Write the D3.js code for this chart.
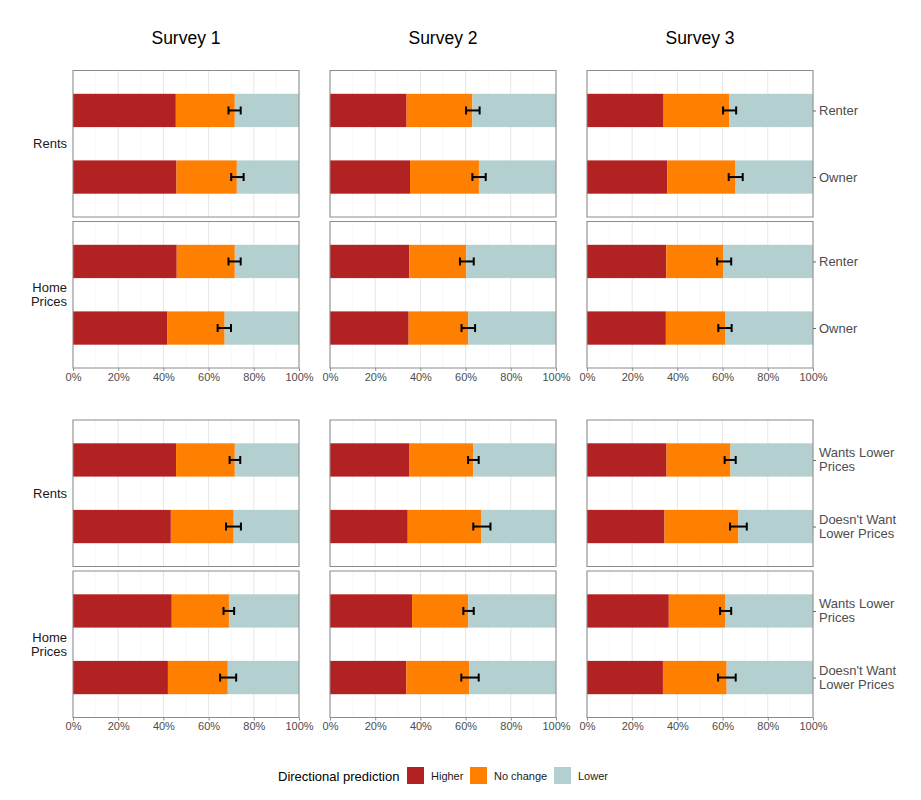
<!DOCTYPE html>
<html>
<head>
<meta charset="utf-8">
<script src="https://cdn.jsdelivr.net/npm/d3@7"></script>
<style>
  body { margin: 0; background: #fff; }
  svg { font-family: "Liberation Sans", Arial, sans-serif; }
</style>
</head>
<body>
<svg id="chart" width="921" height="800"></svg>
<script>
// chart data (shares in %), order: [survey][outcome][group]
const surveys = ["Survey 1", "Survey 2", "Survey 3"];
const outcomes = [["Rents"], ["Home", "Prices"]];
const predictions = ["Higher", "No change", "Lower"];
const colors = ["#b22222", "#ff7f00", "#b4cfcf"];
const tenureGroups = ["Renter", "Owner"];
const preferenceGroups = ["Wants Lower Prices", "Doesn't Want Lower Prices"];
const preferenceLines = [["Wants Lower", "Prices"], ["Doesn't Want", "Lower Prices"]];
const tickValues = [0, 0.2, 0.4, 0.6, 0.8, 1];

// top block: tenure
const tenureHigher = [
  [[45.5, 45.8], [45.9, 41.8]],
  [[33.9, 35.4], [35.1, 34.8]],
  [[33.9, 35.5], [35.1, 34.9]]
];
const tenureNoChange = [
  [[26.1, 26.7], [25.7, 25.3]],
  [[29.1, 30.5], [25.2, 26.4]],
  [[29.1, 30.2], [25.3, 26.4]]
];
const tenureErrLow = [
  [[68.8, 70.0], [68.8, 64.0]],
  [[60.2, 63.0], [57.5, 58.2]],
  [[60.2, 62.7], [57.6, 58.1]]
];
const tenureErrHigh = [
  [[74.2, 75.5], [74.2, 69.9]],
  [[66.2, 68.9], [63.6, 64.2]],
  [[66.0, 68.9], [63.8, 64.0]]
];

// bottom block: preference for lower prices
const prefHigher = [
  [[45.6, 43.3], [43.7, 42.0]],
  [[35.2, 34.4], [36.3, 33.8]],
  [[35.2, 34.3], [36.2, 33.6]]
];
const prefNoChange = [
  [[26.0, 27.8], [25.3, 26.5]],
  [[28.2, 32.6], [24.9, 27.9]],
  [[28.3, 32.7], [25.1, 28.2]]
];
const prefErrLow = [
  [[69.3, 67.7], [66.6, 65.1]],
  [[61.1, 63.4], [59.0, 58.1]],
  [[60.9, 63.3], [58.9, 58.0]]
];
const prefErrHigh = [
  [[74.0, 74.3], [71.3, 72.2]],
  [[65.8, 71.0], [63.6, 65.8]],
  [[65.8, 70.7], [63.8, 65.8]]
];

const svg = d3.select("#chart");

const colX = [73, 330, 587];
const panelW = 226;
const panelH = 146.5;
const panelGap = 4.5;

const blocks = [
  {top: 70.5, groups: tenureGroups, lines: tenureGroups.map(d => [d]),
   higher: tenureHigher, noChange: tenureNoChange, lo: tenureErrLow, hi: tenureErrHigh},
  {top: 420, groups: preferenceGroups, lines: preferenceLines,
   higher: prefHigher, noChange: prefNoChange, lo: prefErrLow, hi: prefErrHigh}
];

// survey titles
surveys.forEach(function(s, i) {
  svg.append("text")
    .attr("x", colX[i] + panelW / 2)
    .attr("y", 44)
    .attr("text-anchor", "middle")
    .attr("font-size", 17.5)
    .attr("fill", "#000")
    .text(s);
});

blocks.forEach(function(block) {
  outcomes.forEach(function(outcomeLines, o) {
    const top = block.top + o * (panelH + panelGap);
    const y = d3.scalePoint().domain(block.groups).range([top, top + panelH]).padding(0.6);
    const barH = y.step() * 0.5;

    // outcome label on the left
    const label = svg.append("text")
      .attr("text-anchor", "end")
      .attr("font-size", 13)
      .attr("fill", "#1a1a1a");
    outcomeLines.forEach(function(line, li) {
      label.append("tspan")
        .attr("x", 67)
        .attr("y", top + panelH / 2 + 4.5 + (li - (outcomeLines.length - 1) / 2) * 14)
        .text(line);
    });

    surveys.forEach(function(s, si) {
      const x = d3.scaleLinear().domain([0, 1]).range([colX[si], colX[si] + panelW]);
      const g = svg.append("g");

      // grid
      g.selectAll("line.minor")
        .data(d3.range(0.1, 1, 0.2))
        .enter().append("line")
        .attr("x1", d => x(d)).attr("x2", d => x(d))
        .attr("y1", top).attr("y2", top + panelH)
        .attr("stroke", "#f2f2f2").attr("stroke-width", 0.6);
      g.selectAll("line.major")
        .data(tickValues)
        .enter().append("line")
        .attr("x1", d => x(d)).attr("x2", d => x(d))
        .attr("y1", top).attr("y2", top + panelH)
        .attr("stroke", "#e6e6e6").attr("stroke-width", 1);

      // stacked bars
      const rows = block.groups.map(function(grp, gi) {
        const h = block.higher[si][o][gi] / 100;
        const n = block.noChange[si][o][gi] / 100;
        return {group: grp, segs: [[0, h], [h, h + n], [h + n, 1]],
                lo: block.lo[si][o][gi] / 100, hi: block.hi[si][o][gi] / 100};
      });

      rows.forEach(function(r) {
        g.selectAll(null)
          .data(r.segs)
          .enter().append("rect")
          .attr("x", d => x(d[0]))
          .attr("width", d => x(d[1]) - x(d[0]))
          .attr("y", y(r.group) - barH / 2)
          .attr("height", barH)
          .attr("fill", (d, k) => colors[k]);

        // error bar
        const cy = y(r.group);
        g.append("line")
          .attr("x1", x(r.lo)).attr("x2", x(r.hi))
          .attr("y1", cy).attr("y2", cy)
          .attr("stroke", "#000").attr("stroke-width", 2);
        [r.lo, r.hi].forEach(function(v) {
          g.append("line")
            .attr("x1", x(v)).attr("x2", x(v))
            .attr("y1", cy - 4).attr("y2", cy + 4)
            .attr("stroke", "#000").attr("stroke-width", 2);
        });
      });

      // panel border
      g.append("rect")
        .attr("x", colX[si]).attr("y", top)
        .attr("width", panelW).attr("height", panelH)
        .attr("fill", "none").attr("stroke", "#8c8c8c").attr("stroke-width", 1);

      // bottom axis on lower panel
      if (o === 1) {
        const ax = g.append("g")
          .attr("transform", "translate(0," + (top + panelH) + ")")
          .call(d3.axisBottom(x).tickValues(tickValues).tickFormat(d3.format(".0%")).tickSize(3).tickPadding(2));
        ax.select(".domain").remove();
        ax.selectAll(".tick line").attr("stroke", "#8c8c8c");
        ax.selectAll(".tick text").attr("font-size", 11).attr("fill", "#4d4d4d")
          .attr("font-family", "Liberation Sans, Arial, sans-serif");
      }

      // right axis on last column
      if (si === surveys.length - 1) {
        const ay = g.append("g")
          .attr("transform", "translate(" + (colX[si] + panelW) + ",0)")
          .call(d3.axisRight(y).tickSize(3).tickPadding(3).tickFormat(""));
        ay.select(".domain").remove();
        ay.selectAll(".tick line").attr("stroke", "#666");
        block.groups.forEach(function(grp, gi) {
          const lines = block.lines[gi];
          const t = g.append("text")
            .attr("font-size", 13)
            .attr("fill", "#4d4d4d");
          lines.forEach(function(line, li) {
            t.append("tspan")
              .attr("x", colX[si] + panelW + 6)
              .attr("y", y(grp) + 4.5 + (li - (lines.length - 1) / 2) * 14)
              .text(line);
          });
        });
      }
    });
  });
});

// legend
const legend = svg.append("g");
legend.append("text")
  .attr("x", 278).attr("y", 781)
  .attr("font-size", 13).attr("fill", "#000")
  .text("Directional prediction");
const keyX = [407, 470, 554];
predictions.forEach(function(p, i) {
  legend.append("rect")
    .attr("x", keyX[i]).attr("y", 767)
    .attr("width", 17).attr("height", 17)
    .attr("fill", colors[i]);
  legend.append("text")
    .attr("x", keyX[i] + 24).attr("y", 779.5)
    .attr("font-size", 11).attr("fill", "#1a1a1a")
    .text(p);
});
</script>
</body>
</html>
